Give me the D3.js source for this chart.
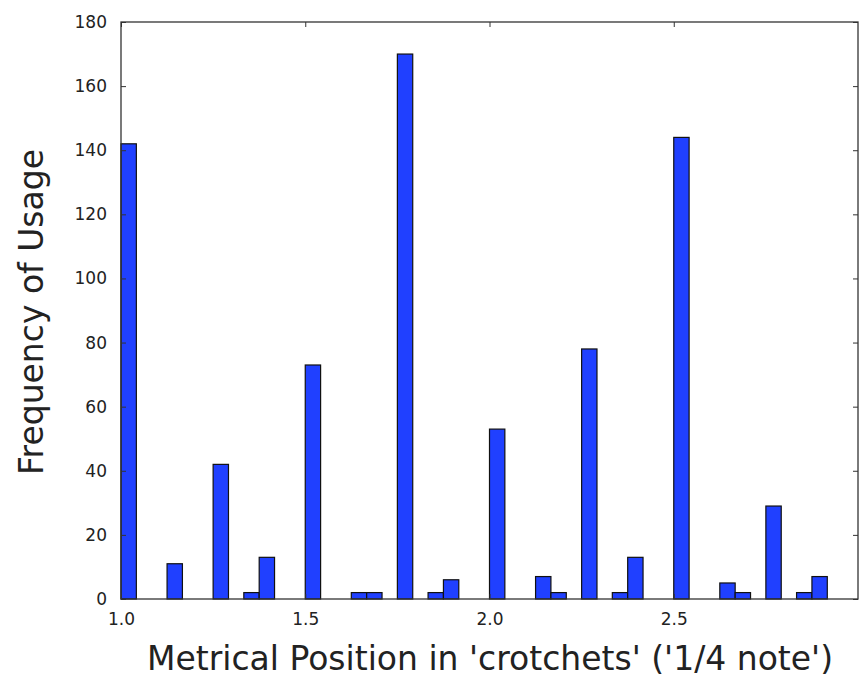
<!DOCTYPE html>
<html>
<head>
<meta charset="utf-8">
<script src="https://cdn.jsdelivr.net/npm/d3@7"></script>
<style>
  body { margin: 0; background: #fff; }
  svg { display: block; }
</style>
</head>
<body>
<script>
// Histogram data: left edge of each non-empty bin (in crotchets) and its count
var binStart = [1.0, 1.125, 1.25, 1.3333, 1.375, 1.5, 1.625, 1.6667, 1.75, 1.8333, 1.875,
                2.0, 2.125, 2.1667, 2.25, 2.3333, 2.375, 2.5, 2.625, 2.6667, 2.75, 2.8333, 2.875];
var counts   = [142, 11, 42, 2, 13, 73, 2, 2, 170, 2, 6,
                53, 7, 2, 78, 2, 13, 144, 5, 2, 29, 2, 7];
var binWidth = 1 / 24;
var xTicks = [1.0, 1.5, 2.0, 2.5];
var yTicks = [0, 20, 40, 60, 80, 100, 120, 140, 160, 180];

var W = 861, H = 678,
	plot = {left: 121, right: 858, top: 22, bottom: 599};   // plot area in pixels

var svg = d3.select("body")
	.append("svg")
	.attr("width", W)
	.attr("height", H);

var x = d3.scaleLinear().domain([1, 3]).range([plot.left, plot.right]);
var y = d3.scaleLinear().domain([0, 180]).range([plot.bottom, plot.top]);

// Bars
svg.append("g")
	.selectAll("rect")
	.data(binStart)
	.enter()
	.append("rect")
	.attr("x", function(d) { return x(d); })
	.attr("width", function(d) { return x(d + binWidth) - x(d); })
	.attr("y", function(d, i) { return y(counts[i]); })
	.attr("height", function(d, i) { return y(0) - y(counts[i]); })
	.attr("fill", "#2040ff")
	.attr("stroke", "#111")
	.attr("stroke-width", 1.2);

// Axes (classic style: inward ticks on all four sides)
function styleAxis(g) {
	g.select(".domain").remove();
	g.selectAll(".tick line").attr("stroke", "#333").attr("stroke-width", 1);
	g.selectAll(".tick text")
		.attr("fill", "#222")
		.attr("font-family", "DejaVu Sans, sans-serif")
		.attr("font-size", "17px");
}

svg.append("g")
	.attr("transform", "translate(0," + plot.bottom + ")")
	.call(d3.axisBottom(x).tickValues(xTicks).tickFormat(d3.format(".1f"))
		.tickSizeInner(-5).tickSizeOuter(0).tickPadding(14))
	.call(styleAxis);
svg.append("g")
	.attr("transform", "translate(0," + plot.top + ")")
	.call(d3.axisTop(x).tickValues(xTicks).tickFormat("")
		.tickSizeInner(-5).tickSizeOuter(0))
	.call(styleAxis);
svg.append("g")
	.attr("transform", "translate(" + plot.left + ",0)")
	.call(d3.axisLeft(y).tickValues(yTicks)
		.tickSizeInner(-5).tickSizeOuter(0).tickPadding(14))
	.call(styleAxis);
svg.append("g")
	.attr("transform", "translate(" + plot.right + ",0)")
	.call(d3.axisRight(y).tickValues(yTicks).tickFormat("")
		.tickSizeInner(-5).tickSizeOuter(0))
	.call(styleAxis);

// Frame
svg.append("rect")
	.attr("x", plot.left)
	.attr("y", plot.top)
	.attr("width", plot.right - plot.left)
	.attr("height", plot.bottom - plot.top)
	.attr("fill", "none")
	.attr("stroke", "#333")
	.attr("stroke-width", 1.3);

// Axis labels
svg.append("text")
	.text("Metrical Position in 'crotchets' ('1/4 note')")
	.attr("x", 490)
	.attr("y", 670)
	.attr("font-family", "DejaVu Sans, sans-serif")
	.attr("font-size", "33px")
	.attr("fill", "#222")
	.attr("text-anchor", "middle");
svg.append("text")
	.text("Frequency of Usage")
	.attr("transform", "translate(43,312) rotate(-90)")
	.attr("font-family", "DejaVu Sans, sans-serif")
	.attr("font-size", "33px")
	.attr("fill", "#222")
	.attr("text-anchor", "middle");
</script>
</body>
</html>
